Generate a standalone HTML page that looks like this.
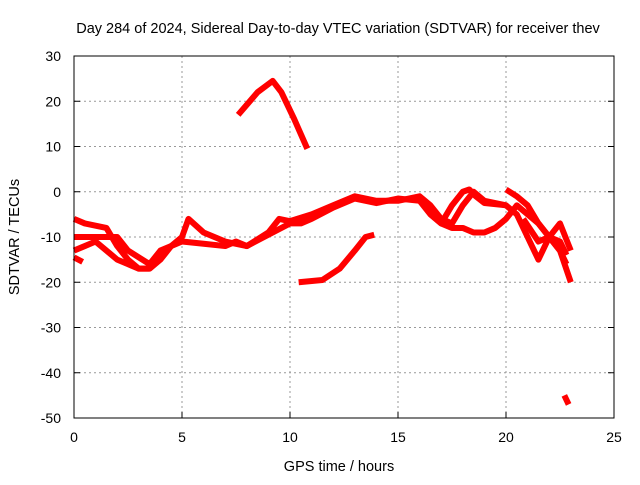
<!DOCTYPE html>
<html><head><meta charset="utf-8"><style>
body{margin:0;background:#fff}
svg text{font-family:"Liberation Sans",sans-serif;fill:#000}
</style></head><body>
<svg id="c" width="640" height="480">
<text x="338" y="33" font-size="14.5" text-anchor="middle">Day 284 of 2024, Sidereal Day-to-day VTEC variation (SDTVAR) for receiver thev</text>
<text x="339" y="471" font-size="14.5" text-anchor="middle">GPS time / hours</text>
<text transform="translate(19,237) rotate(-90)" font-size="14.5" text-anchor="middle">SDTVAR / TECUs</text>
<g id="grid"></g><g id="series"></g>
<rect x="74" y="56" width="540" height="362" fill="none" stroke="#000" stroke-width="1"/>
</svg>
<script>
const xTicks=[0,5,10,15,20,25];
const yTicks=[30,20,10,0,-10,-20,-30,-40,-50];
const sA=[[0,-6],[0.5,-7],[1.5,-8],[2,-12],[2.5,-15],[3,-17],[3.5,-17],[4,-15],[4.5,-12],[5,-10],[5.3,-6],[6,-9],[7,-11],[8,-12],[9,-9],[9.5,-6],[10,-6.5],[11,-5],[12,-3],[13,-1],[14,-2],[15,-2],[16,-1],[16.5,-3],[17,-6],[17.5,-7],[18,-3],[18.5,0],[19,-2],[20,-3],[20.5,-5],[21,-10],[21.5,-15],[22,-10],[22.5,-7],[23,-13]];
const sB=[[0,-10],[1,-10],[2,-10],[2.5,-13],[3.5,-16],[4,-13],[5,-11],[6,-11.5],[7,-12],[7.5,-11],[8,-12],[9,-9.5],[10,-7],[10.5,-7],[11,-6],[12,-3.5],[13,-1.5],[14,-2.5],[15,-1.5],[16,-2],[16.5,-5],[17,-7],[17.5,-8],[18,-8],[18.5,-9],[19,-9],[19.5,-8],[20,-6],[20.5,-3],[21,-5],[21.5,-7],[22,-10],[22.5,-13],[23,-20]];
const sC=[[0,-13],[0.5,-12],[1,-11],[1.5,-13],[2,-15],[3,-17],[3.5,-17]];
const sD=[[0,-14.5],[0.4,-15.5]];
const sE=[[7.6,17],[8.5,22],[9.2,24.5],[9.6,22],[10.2,16],[10.8,9.5]];
const sF=[[10.4,-20],[11.5,-19.5],[12.3,-17],[13,-13],[13.5,-10],[13.9,-9.5]];
const sG=[[16.5,-5],[17,-7],[17.5,-3],[18,0],[18.3,0.5],[18.6,-1],[19,-2.5],[20,-3]];
const sH=[[20,0.5],[20.5,-1],[21,-3],[21.5,-7],[22,-10],[22.5,-13],[22.8,-16]];
const sI=[[22.7,-45],[22.9,-47]];
const sJ=[[20.8,-6],[21.5,-11],[22,-10],[22.5,-11],[22.8,-14]];
const allSeries=[sA,sB,sC,sD,sE,sF,sG,sH,sI,sJ];
const X=h=>74+h*21.6, Y=v=>56+(30-v)*4.525;
const NS='http://www.w3.org/2000/svg';
const g=document.getElementById('grid'), s=document.getElementById('series');
function mk(tag,attrs,parent){const e=document.createElementNS(NS,tag);for(const k in attrs)e.setAttribute(k,attrs[k]);parent.appendChild(e);return e;}
xTicks.forEach(t=>{
  if(t>0&&t<25){const l=mk('line',{x1:X(t),x2:X(t),y1:56,y2:418,stroke:'#999','stroke-dasharray':'2,3'},g);
  
  }
  mk('line',{x1:X(t),x2:X(t),y1:418,y2:412,stroke:'#000'},g);
  const tx=mk('text',{x:X(t),y:442,'font-size':14,'text-anchor':'middle'},g);tx.textContent=t;
  
  
});
yTicks.forEach(t=>{
  if(t<30&&t>-50){const l=mk('line',{x1:74,x2:614,y1:Y(t),y2:Y(t),stroke:'#999','stroke-dasharray':'2,3'},g);
  
  }
  mk('line',{x1:74,x2:80,y1:Y(t),y2:Y(t),stroke:'#000'},g);
  mk('line',{x1:608,x2:614,y1:Y(t),y2:Y(t),stroke:'#000'},g);
  const tx=mk('text',{x:61,y:Y(t)+5,'font-size':14,'text-anchor':'end'},g);tx.textContent=t;
  
  
});
allSeries.forEach((d,i)=>{
  const p=mk('polyline',{points:d.map(q=>X(q[0])+','+Y(q[1])).join(' '),fill:'none',stroke:'#f00','stroke-width':6,'stroke-linejoin':'round'},s);
  
  
});
</script>
</body></html>
